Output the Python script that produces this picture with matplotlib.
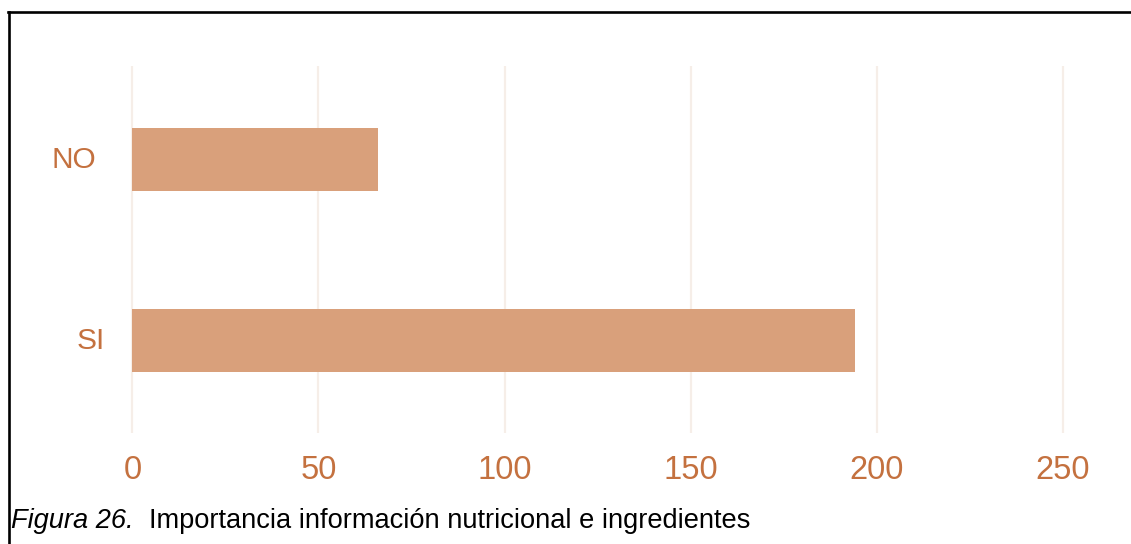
import matplotlib
matplotlib.use("Agg")
import matplotlib.pyplot as plt
from matplotlib.lines import Line2D
import matplotlib.transforms as mtransforms

categories = ["SI", "NO"]
values = [194, 66]
x_ticks = [0, 50, 100, 150, 200, 250]
caption_label = "Figura 26."
caption_text = "Importancia información nutricional e ingredientes"

W, H, DPI = 1131, 544, 100
BAR_COLOR = "#d9a07b"
LABEL_COLOR = "#c4713f"
GRID_COLOR = "#f6eee8"

plt.rcParams["font.family"] = ["Liberation Sans", "DejaVu Sans"]

fig = plt.figure(figsize=(W / DPI, H / DPI), dpi=DPI)
fig.patch.set_facecolor("white")


def fx(px):
    return px / W


def fy(py):
    return 1 - py / H


left, right, top, bottom = 113.7, 1081.6, 66, 433
ax = fig.add_axes([fx(left), fy(bottom), fx(right - left), (bottom - top) / H])

ypos = list(range(len(categories)))
ax.barh(ypos, values, height=0.35, color=BAR_COLOR, zorder=2)

ax.set_xlim(-5, 255)
ax.set_ylim(-0.511, 1.517)
ax.set_xticks(x_ticks)
ax.set_xticklabels([str(t) for t in x_ticks])
ax.tick_params(axis="x", length=0, pad=15.5, labelsize=23.5, labelcolor=LABEL_COLOR)
ax.set_yticks([])
ax.grid(axis="x", color=GRID_COLOR, linewidth=1.6, zorder=0)
ax.set_axisbelow(True)
for s in ax.spines.values():
    s.set_visible(False)

# category labels on the left
label_x = {"NO": 52, "SI": 77}
trans = mtransforms.blended_transform_factory(fig.transFigure, ax.transData)
for y, cat in zip(ypos, categories):
    ax.text(fx(label_x[cat]), y, cat, transform=trans, ha="left", va="center",
            fontsize=21.5, color=LABEL_COLOR)

# frame lines (top and left)
fig.add_artist(Line2D([fx(8), 1], [fy(12), fy(12)], color="black", linewidth=1.9,
                      transform=fig.transFigure))
fig.add_artist(Line2D([fx(8.5), fx(8.5)], [fy(12), 0], color="black", linewidth=1.9,
                      transform=fig.transFigure))

# caption
cap = fig.text(fx(11), fy(528.5), caption_label, fontsize=19.6, style="italic",
               ha="left", va="baseline", color="black")
fig.canvas.draw()
bb = cap.get_window_extent()
fig.text(bb.x1 / W + fx(15), fy(528.5), caption_text, fontsize=19.6,
         ha="left", va="baseline", color="black")

fig.savefig("out.png", dpi=DPI, facecolor="white")
